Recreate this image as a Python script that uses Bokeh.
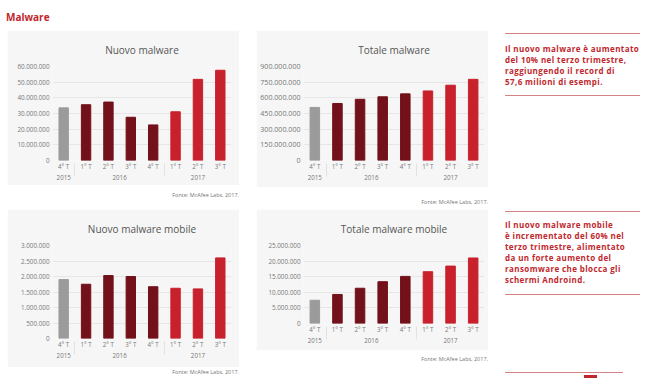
from bokeh.plotting import figure
from bokeh.models import FactorRange, Range1d, FixedTicker, CustomJSTickFormatter, Div, Spacer, ColumnDataSource
from bokeh.layouts import row, column
from bokeh.embed import file_html
from bokeh.resources import INLINE

# ---- data ----
years = ["2015", "2016", "2016", "2016", "2016", "2017", "2017", "2017"]
quarters = ["4° T", "1° T", "2° T", "3° T", "4° T", "1° T", "2° T", "3° T"]

nuovo_malware = [33.6e6, 35.6e6, 37.3e6, 27.6e6, 22.7e6, 31.1e6, 51.8e6, 57.6e6]
totale_malware = [508e6, 546e6, 586e6, 610e6, 638e6, 666e6, 721e6, 777e6]
nuovo_mobile = [1.90e6, 1.75e6, 2.03e6, 2.00e6, 1.67e6, 1.62e6, 1.60e6, 2.60e6]
totale_mobile = [7.45e6, 9.3e6, 11.3e6, 13.4e6, 15.1e6, 16.6e6, 18.4e6, 21.0e6]

ticks_nuovo = [0, 10e6, 20e6, 30e6, 40e6, 50e6, 60e6]
ticks_totale = [0, 150e6, 300e6, 450e6, 600e6, 750e6, 900e6]
ticks_nuovo_mobile = [0, 500e3, 1000e3, 1500e3, 2000e3, 2500e3, 3000e3]
ticks_totale_mobile = [0, 5e6, 10e6, 15e6, 20e6, 25e6]

source_text = "Fonte: McAfee Labs, 2017."
note1 = ["Il nuovo malware è aumentato", "del 10% nel terzo trimestre,",
         "raggiungendo il record di", "57,6 milioni di esempi."]
note2 = ["Il nuovo malware mobile", "è incrementato del 60% nel",
         "terzo trimestre, alimentato", "da un forte aumento del",
         "ransomware che blocca gli", "schermi Androind."]

# ---- style ----
YEAR_COLORS = {"2015": "#9b9b9b", "2016": "#72111a", "2017": "#c8202d"}
PANEL = "#f6f6f6"
RED = "#c0272d"
LINE = "#d48084"
FONT = "Open Sans"
CAT_SIZE = "6.2px"
DIV_CSS = [":host { font-size: 0px; line-height: 0px; } div { vertical-align: top; }"]

fmt = CustomJSTickFormatter(code="return Math.round(tick).toString().replace(/\\B(?=(\\d{3})+(?!\\d))/g, '.');")


def make_chart(title, values, ticks, w, h, bl, br, bt, bb, ysize):
    factors = list(zip(years, quarters))
    src = ColumnDataSource(dict(x=factors, top=values,
                                color=[YEAR_COLORS[y] for y in years]))
    p = figure(x_range=FactorRange(*factors, group_padding=0, factor_padding=0, range_padding=0),
               y_range=Range1d(0, ticks[-1]), width=w, height=h,
               output_backend="svg", toolbar_location=None, title=title,
               min_border_left=bl, min_border_right=br, min_border_top=bt, min_border_bottom=bb,
               margin=0)
    p.vbar(x="x", top="top", width=0.42, color="color", source=src)
    p.background_fill_color = PANEL
    p.border_fill_color = PANEL
    p.outline_line_color = None
    p.title.text_font = FONT
    p.title.text_font_size = "10px"
    p.title.text_font_style = "normal"
    p.title.text_color = "#555555"
    p.title.align = "center"
    p.title.standoff = 20
    p.xgrid.grid_line_color = None
    p.ygrid.grid_line_color = "#e6e6e6"
    p.yaxis.ticker = FixedTicker(ticks=ticks)
    p.yaxis.formatter = fmt
    for ax in (p.xaxis[0], p.yaxis[0]):
        ax.axis_line_color = None
        ax.major_tick_line_color = None
        ax.minor_tick_line_color = None
        ax.major_tick_out = 0
        ax.major_tick_in = 0
        ax.minor_tick_out = 0
        ax.major_label_text_font = FONT
        ax.major_label_text_color = "#777777"
    p.yaxis.major_label_text_font_size = ysize
    p.yaxis.major_label_standoff = 3
    xa = p.xaxis[0]
    xa.major_label_text_font_size = CAT_SIZE
    xa.major_label_standoff = 1
    xa.group_text_font = FONT
    xa.group_text_font_size = CAT_SIZE
    xa.group_text_font_style = "normal"
    xa.group_text_color = "#777777"
    xa.separator_line_color = "#e2e2e2"
    xa.separator_line_width = 1
    return p


def fonte(w, h, pad):
    return Div(text=f'<div style="width:{w}px;text-align:right;font-family:\'{FONT}\';font-size:5.5px;'
                    f'line-height:7px;color:#777;padding-top:{pad}px;white-space:nowrap">{source_text}</div>',
               width=w, height=h, margin=0, stylesheets=DIV_CSS)


def note_html(lines, pt, pb, mt):
    body = "".join(f'<div style="height:11px;line-height:11px">{ln}</div>' for ln in lines)
    return (f'<div style="margin-top:{mt}px;width:135px;border-top:1px solid {LINE};border-bottom:1px solid {LINE};'
            f'padding:{pt}px 0 {pb}px 0;font-family:\'{FONT}\';font-weight:bold;font-size:8px;'
            f'letter-spacing:0.4px;color:{RED};white-space:nowrap">{body}</div>')


fig1 = make_chart("Nuovo malware", nuovo_malware, ticks_nuovo, 232, 155, 45, 8, 32, 25, "6.3px")
fig2 = make_chart("Totale malware", totale_malware, ticks_totale, 232, 157, 47, 4, 33, 27, "7.1px")
fig3 = make_chart("Nuovo malware mobile", nuovo_mobile, ticks_nuovo_mobile, 232, 158, 45, 8, 32, 29, "6.3px")
fig4 = make_chart("Totale malware mobile", totale_mobile, ticks_totale_mobile, 232, 141, 47, 4, 32, 27, "6.3px")

title_div = Div(text=f'<div style="font-family:\'{FONT}\';font-weight:bold;font-size:10px;line-height:12px;'
                     f'color:{RED};padding:11px 0 0 6px">Malware</div>', width=649, height=30, margin=0,
                stylesheets=DIV_CSS)

right_html = (note_html(note1, 9, 8, 3)
              + note_html(note2, 7, 9, 115)
              + f'<div style="margin-top:77px;width:118px;border-top:1px solid {LINE}"></div>'
              + f'<div style="margin:2px 0 0 79px;width:13px;height:3px;background:{RED}"></div>')
right_div = Div(text=f'<div style="width:144px">{right_html}</div>', width=144, height=349, margin=0,
                stylesheets=DIV_CSS)

sp = lambda w: Spacer(width=w, height=10, margin=0)

top_row = row(column(fig1, fonte(232, 24, 7), spacing=0), sp(17),
              column(fig2, fonte(232, 22, 12), spacing=0), spacing=0)
bottom_row = row(column(fig3, fonte(232, 12, 2), spacing=0), sp(17),
                 column(fig4, fonte(232, 29, 6), spacing=0), spacing=0)
left_col = column(top_row, bottom_row, spacing=0)

layout = column(title_div, row(sp(7), left_col, sp(17), right_div, spacing=0), spacing=0)

open("out.html", "w").write(file_html(layout, INLINE))
